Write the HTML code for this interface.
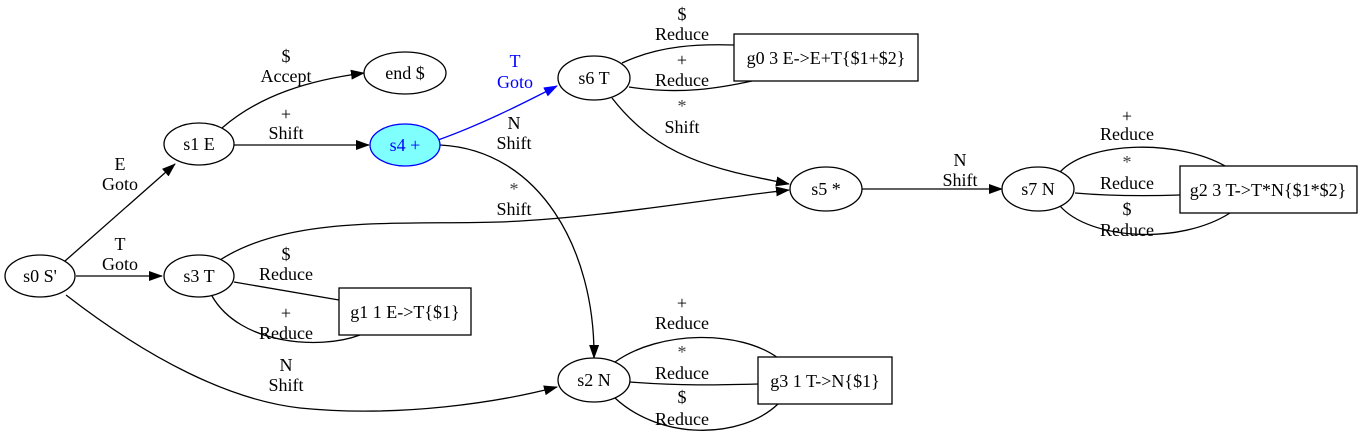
<!DOCTYPE html>
<html><head><meta charset="utf-8"><style>
html,body{margin:0;padding:0;background:#fff;width:1366px;height:442px;overflow:hidden}
svg text{font-family:"Liberation Serif","Times New Roman",Times,serif;font-size:18px;text-anchor:middle}
</style></head><body>
<svg width="1366" height="442" viewBox="0 0 1366 442">
<defs>
<marker id="ar" markerWidth="14" markerHeight="10" refX="13" refY="5" orient="auto" markerUnits="userSpaceOnUse"><path d="M0,0 L14,5 L0,10 z" fill="#000"/></marker>
<marker id="ab" markerWidth="14" markerHeight="10" refX="13" refY="5" orient="auto" markerUnits="userSpaceOnUse"><path d="M0,0 L14,5 L0,10 z" fill="#00f"/></marker>
</defs>
<g fill="none" stroke="#000" stroke-width="1.3">
<path d="M65,261 L175,164" marker-end="url(#ar)"/>
<path d="M222,128 C260,95 310,80 364,73" marker-end="url(#ar)"/>
<path d="M234,145 L369,145" marker-end="url(#ar)"/>
<path d="M438,140 C480,125 520,105 557,86" stroke="#00f" marker-end="url(#ab)"/>
<path d="M440,145 C540,150 595,250 594,358" marker-end="url(#ar)"/>
<path d="M622,63 C660,45 700,44 734,45"/>
<path d="M629,87 C680,95 720,88 752,81"/>
<path d="M612,98 C660,160 720,170 789,184" marker-end="url(#ar)"/>
<path d="M220,260 C290,215 400,225 500,222 C600,218 700,200 789,190" marker-end="url(#ar)"/>
<path d="M862,189 L1002,189" marker-end="url(#ar)"/>
<path d="M1060,172 C1090,140 1180,140 1225,166"/>
<path d="M1075,193 C1110,196 1150,196 1180,195"/>
<path d="M1060,206 C1090,240 1180,245 1230,213"/>
<path d="M76,276 L162,276" marker-end="url(#ar)"/>
<path d="M234,282 L339,300"/>
<path d="M212,296 C240,345 320,350 360,335"/>
<path d="M66,295 C150,360 230,400 300,408 C400,418 500,402 557,387" marker-end="url(#ar)"/>
<path d="M615,362 C660,330 740,330 778,358"/>
<path d="M630,382 C680,386 720,385 758,384"/>
<path d="M615,398 C660,440 740,440 778,404"/>
</g>
<g fill="none" stroke="#000" stroke-width="1.3">
<ellipse cx="40" cy="276" rx="35" ry="21" fill="#fff"/>
<ellipse cx="199" cy="144" rx="35" ry="21" fill="#fff"/>
<ellipse cx="405" cy="73" rx="41" ry="21" fill="#fff"/>
<ellipse cx="405" cy="145" rx="35" ry="21" fill="#80ffff" stroke="#00f"/>
<ellipse cx="594" cy="78" rx="36" ry="22" fill="#fff"/>
<ellipse cx="826" cy="189" rx="36" ry="22" fill="#fff"/>
<ellipse cx="1038" cy="189" rx="36" ry="22" fill="#fff"/>
<ellipse cx="199" cy="276" rx="35" ry="21" fill="#fff"/>
<ellipse cx="594" cy="380" rx="36" ry="22" fill="#fff"/>
<rect x="734" y="34" width="184" height="47" fill="#fff"/>
<rect x="1180" y="166" width="177" height="47" fill="#fff"/>
<rect x="339" y="288" width="132" height="47" fill="#fff"/>
<rect x="758" y="357" width="134" height="47" fill="#fff"/>
</g>
<g>
<text x="40" y="282">s0 S'</text>
<text x="199" y="150">s1 E</text>
<text x="405" y="79">end $</text>
<text x="405" y="151" fill="#00f">s4 +</text>
<text x="594" y="84">s6 T</text>
<text x="826" y="195">s5 *</text>
<text x="1038" y="195">s7 N</text>
<text x="199" y="282">s3 T</text>
<text x="594" y="386">s2 N</text>
<text x="826" y="64">g0 3 E-&gt;E+T{$1+$2}</text>
<text x="1268" y="196">g2 3 T-&gt;T*N{$1*$2}</text>
<text x="405" y="318">g1 1 E-&gt;T{$1}</text>
<text x="825" y="387">g3 1 T-&gt;N{$1}</text>
</g>
<g>
<text x="120" y="170">E</text><text x="120" y="190">Goto</text>
<text x="286" y="62">$</text><text x="286" y="82">Accept</text>
<text x="286" y="120">+</text><text x="286" y="139">Shift</text>
<text x="515" y="67" fill="#00f">T</text><text x="515" y="88" fill="#00f">Goto</text>
<text x="514" y="129">N</text><text x="514" y="149">Shift</text>
<text x="682" y="20">$</text><text x="682" y="40">Reduce</text>
<text x="682" y="66">+</text><text x="682" y="86">Reduce</text>
<text x="682" y="112" fill="#444">*</text><text x="682" y="133">Shift</text>
<text x="514" y="195" fill="#444">*</text><text x="514" y="215">Shift</text>
<text x="960" y="166">N</text><text x="960" y="186">Shift</text>
<text x="1127" y="122">+</text><text x="1127" y="140">Reduce</text>
<text x="1127" y="168" fill="#444">*</text><text x="1127" y="189">Reduce</text>
<text x="1127" y="215">$</text><text x="1127" y="236">Reduce</text>
<text x="120" y="250">T</text><text x="120" y="270">Goto</text>
<text x="286" y="260">$</text><text x="286" y="280">Reduce</text>
<text x="286" y="319">+</text><text x="286" y="339">Reduce</text>
<text x="286" y="371">N</text><text x="286" y="391">Shift</text>
<text x="682" y="309">+</text><text x="682" y="329">Reduce</text>
<text x="682" y="358" fill="#444">*</text><text x="682" y="379">Reduce</text>
<text x="682" y="403">$</text><text x="682" y="425">Reduce</text>
</g>
</svg>
</body></html>
